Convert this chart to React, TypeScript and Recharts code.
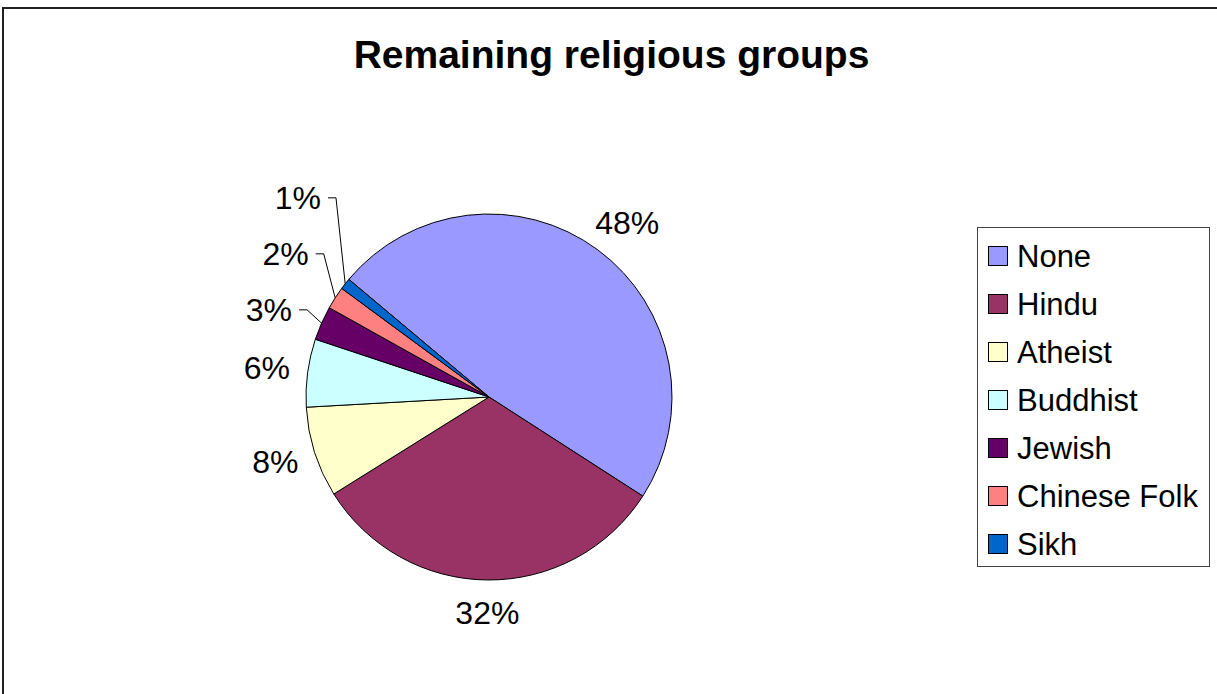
import React from 'react';
import { PieChart, Pie, Cell, Legend } from 'recharts';

const categories = ['None', 'Hindu', 'Atheist', 'Buddhist', 'Jewish', 'Chinese Folk', 'Sikh'];
const shares = [48, 32, 8, 6, 3, 2, 1];
const colors = ['#9999FF', '#993366', '#FFFFCC', '#CCFFFF', '#660066', '#FF8080', '#0066CC'];

const data = categories.map((name, i) => ({ name, value: shares[i] }));

const FONT = '"Liberation Sans", Arial, Helvetica, sans-serif';
const START = 140;
const END = -220;
const CX = 489;
const CY = 397;
const R = 183;
const LABEL_GAP = 18;
const LABEL_SIZE = 32;
const BOX_H = 30;
const MIN_SEP = 56;
const SMALL = 0.05;
const SHIFT = 15;

const pctText = (p: number) => `${Math.round(p * 100)}%`;
const textW = (s: string) => {
  let w = 0;
  for (const ch of s) w += ch === '%' ? 0.889 : 0.556;
  return w * LABEL_SIZE;
};

// vertical push of crowded labels, derived from the data
function computePush(): number[] {
  const total = shares.reduce((a, b) => a + b, 0);
  let cum = 0;
  const items = shares.map((v, i) => {
    const mid = START - ((START - END) * (cum + v / 2)) / total;
    cum += v;
    const rad = (mid * Math.PI) / 180;
    const cos = Math.cos(rad);
    const sin = Math.sin(rad);
    const py = CY - (R + LABEL_GAP) * sin;
    const y = py - (BOX_H / 2) * sin;
    return { i, cos, y, ny: y };
  });
  [-1, 1].forEach((side) => {
    const s = items.filter((it) => Math.sign(it.cos) === side).sort((a, b) => b.y - a.y);
    for (let k = 1; k < s.length; k++) {
      if (s[k].y > s[k - 1].y - MIN_SEP) s[k].y = s[k - 1].y - MIN_SEP;
    }
  });
  const push = new Array(shares.length).fill(0);
  items.forEach((it) => (push[it.i] = it.y - it.ny));
  return push;
}
const PUSH = computePush();

const renderLabel = (props: any) => {
  const { cx, cy, midAngle, outerRadius, percent, index } = props;
  const rad = (midAngle * Math.PI) / 180;
  const cos = Math.cos(rad);
  const sin = Math.sin(rad);
  const text = pctText(percent);
  const w = textW(text);
  const px = cx + (outerRadius + LABEL_GAP) * cos;
  const py = cy - (outerRadius + LABEL_GAP) * sin;
  const small = percent < SMALL;
  const side = cos < 0 ? -1 : 1;
  let x = px + (w / 2) * cos;
  const y = py - (BOX_H / 2) * sin + PUSH[index];
  if (small) x += SHIFT * side;
  let line = null;
  if (small) {
    const sx = x - side * (w / 2 + 7);
    const mx = sx - side * 8;
    const ex = cx + outerRadius * cos;
    const ey = cy - outerRadius * sin;
    line = (
      <polyline
        points={`${sx},${y} ${mx},${y} ${ex},${ey}`}
        fill="none"
        stroke="#000"
        strokeWidth={1}
      />
    );
  }
  return (
    <g key={`lbl-${index}`}>
      {line}
      <text
        x={x}
        y={y}
        textAnchor="middle"
        dominantBaseline="central"
        fontSize={LABEL_SIZE}
        fontFamily={FONT}
        fill="#000"
      >
        {text}
      </text>
    </g>
  );
};

const renderLegend = (props: any) => {
  const payload = [...(props.payload || [])].sort(
    (a: any, b: any) => categories.indexOf(a.value) - categories.indexOf(b.value)
  );
  return (
    <div
      style={{
        boxSizing: 'border-box',
        width: 233,
        height: 340,
        border: '1px solid #444',
        paddingTop: 4,
        background: '#fff',
        fontFamily: FONT,
      }}
    >
      {payload.map((entry: any, i: number) => (
        <div key={i} style={{ display: 'flex', alignItems: 'center', height: 48 }}>
          <span
            style={{
              display: 'inline-block',
              boxSizing: 'border-box',
              width: 20,
              height: 20,
              border: '1px solid #000',
              background: entry.color,
              marginLeft: 10,
              marginRight: 9,
            }}
          />
          <span style={{ fontSize: 31, lineHeight: '31px', color: '#000', whiteSpace: 'nowrap' }}>
            {entry.value}
          </span>
        </div>
      ))}
    </div>
  );
};

export default function App() {
  return (
    <div
      style={{
        position: 'fixed',
        left: 0,
        top: 0,
        width: 1217,
        height: 694,
        overflow: 'hidden',
        background: '#fff',
      }}
    >
      <div
        style={{
          position: 'absolute',
          left: 2,
          top: 7,
          width: 1400,
          height: 900,
          border: '2px solid #222',
        }}
      />
      <div
        style={{
          position: 'absolute',
          left: 0,
          top: 35,
          width: 1223,
          textAlign: 'center',
          fontFamily: FONT,
          fontWeight: 'bold',
          fontSize: 39,
          lineHeight: '39px',
          color: '#000',
        }}
      >
        Remaining religious groups
      </div>
      <div style={{ position: 'absolute', left: 0, top: 0 }}>
        <PieChart width={1217} height={694} margin={{ top: 0, right: 0, bottom: 0, left: 0 }}>
          <Pie
            data={data}
            dataKey="value"
            nameKey="name"
            cx={CX}
            cy={CY}
            outerRadius={R}
            startAngle={START}
            endAngle={END}
            stroke="#000"
            strokeWidth={1}
            label={renderLabel}
            labelLine={false}
            isAnimationActive={false}
          >
            {data.map((d, i) => (
              <Cell key={d.name} fill={colors[i]} />
            ))}
          </Pie>
          <Legend
            content={renderLegend}
            layout="vertical"
            align="right"
            verticalAlign="top"
            wrapperStyle={{ position: 'absolute', left: 977, top: 227, width: 233, height: 340 }}
          />
        </PieChart>
      </div>
    </div>
  );
}
